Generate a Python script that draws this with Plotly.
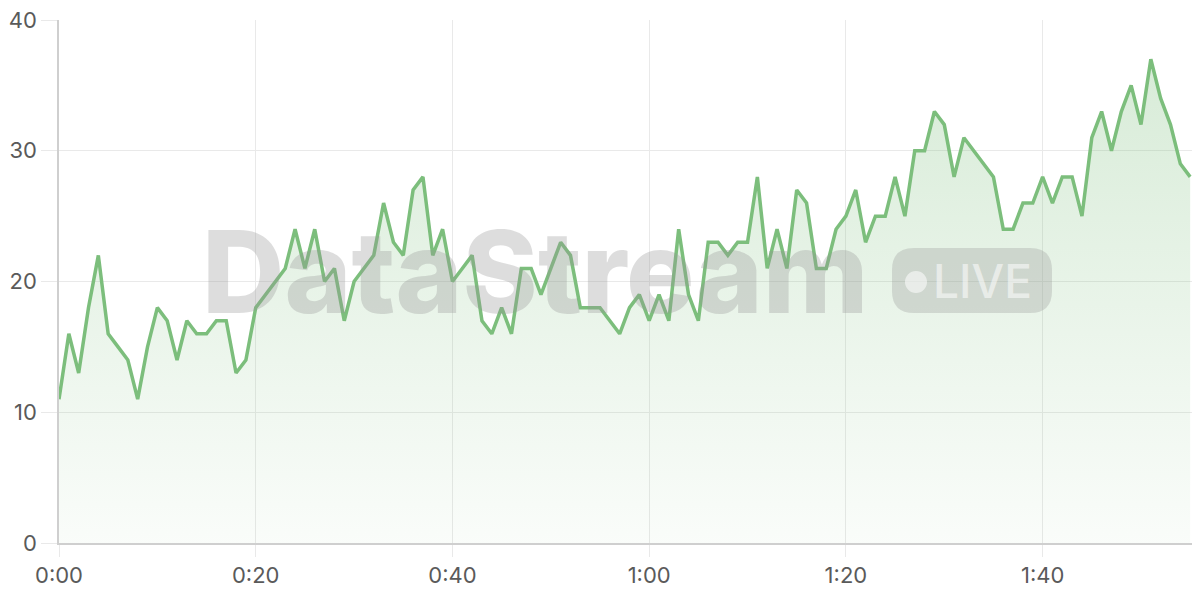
import plotly.graph_objects as go

# ---- data (seconds since start, value) ----
values = [11, 16, 13, 18, 22, 16, 15, 14, 11, 15,
          18, 17, 14, 17, 16, 16, 17, 17, 13, 14,
          18, 19, 20, 21, 24, 21, 24, 20, 21, 17,
          20, 21, 22, 26, 23, 22, 27, 28, 22, 24,
          20, 21, 22, 17, 16, 18, 16, 21, 21, 19,
          21, 23, 22, 18, 18, 18, 17, 16, 18, 19,
          17, 19, 17, 24, 19, 17, 23, 23, 22, 23,
          23, 28, 21, 24, 21, 27, 26, 21, 21, 24,
          25, 27, 23, 25, 25, 28, 25, 30, 30, 33,
          32, 28, 31, 30, 29, 28, 24, 24, 26, 26,
          28, 26, 28, 28, 25, 31, 33, 30, 33, 35,
          32, 37, 34, 32, 29, 28]
seconds = list(range(len(values)))

x_tick_vals = [0, 20, 40, 60, 80, 100]
x_tick_text = ["0:00", "0:20", "0:40", "1:00", "1:20", "1:40"]
y_tick_vals = [0, 10, 20, 30, 40]

LINE = "rgb(124,190,124)"
GRID = "#e9e9e9"
AXIS = "#cfcfcf"
TXT = "#5a5a5a"
FONT = "Inter"

fig = go.Figure()
fig.add_trace(go.Scatter(
    x=seconds, y=values, mode="lines",
    line=dict(color=LINE, width=3.5),
    fill="tozeroy",
    fillgradient=dict(
        type="vertical",
        start=0, stop=40,
        colorscale=[[0, "rgba(124,190,124,0.04)"], [1, "rgba(124,190,124,0.32)"]],
    ),
    hoverinfo="skip",
))

# ---- watermark (positions in page pixels -> paper coords) ----
PW, PH = 1141.0, 523.0
def px(x):
    return (x - 59) / PW
def py(y):
    return (543 - y) / PH

fig.add_annotation(
    text="DataStream", xref="paper", yref="paper",
    x=px(535), y=py(271.5), xanchor="center", yanchor="middle",
    showarrow=False,
    font=dict(family=FONT, size=114, color="rgba(150,150,150,0.32)", weight=800),
)

bx0, bx1, by0, by1, r = px(892), px(1052), py(313), py(248), 22
rx, ry = r / PW, r / PH
path = (f"M {bx0+rx},{by0} L {bx1-rx},{by0} Q {bx1},{by0} {bx1},{by0+ry} "
        f"L {bx1},{by1-ry} Q {bx1},{by1} {bx1-rx},{by1} "
        f"L {bx0+rx},{by1} Q {bx0},{by1} {bx0},{by1-ry} "
        f"L {bx0},{by0+ry} Q {bx0},{by0} {bx0+rx},{by0} Z")
fig.add_shape(type="path", path=path, xref="paper", yref="paper",
              fillcolor="rgba(150,150,150,0.3)", line=dict(width=0), layer="above")
cr = 11
fig.add_shape(type="circle", xref="paper", yref="paper",
              x0=px(916 - cr), x1=px(916 + cr), y0=py(282 + cr), y1=py(282 - cr),
              fillcolor="rgba(255,255,255,0.55)", line=dict(width=0), layer="above")
fig.add_annotation(
    text="LIVE", xref="paper", yref="paper",
    x=px(982.5), y=py(281), xanchor="center", yanchor="middle",
    showarrow=False,
    font=dict(family=FONT, size=46, color="rgba(255,255,255,0.55)", weight=500),
)

# page body has an 8px default margin -> compensate
fig.update_layout(
    width=1192, height=592,
    margin=dict(l=51, r=0, t=12, b=57),
    paper_bgcolor="white", plot_bgcolor="white",
    showlegend=False,
    font=dict(family=FONT, size=22, color=TXT),
    xaxis=dict(
        range=[0, 116], tickvals=x_tick_vals, ticktext=x_tick_text,
        automargin=False,
        showgrid=True, gridcolor=GRID, gridwidth=1,
        showline=True, linecolor=AXIS, linewidth=2,
        ticks="outside", ticklen=12, tickcolor=GRID, tickwidth=1,
        zeroline=False, tickfont=dict(size=22, color=TXT, family=FONT),
    ),
    yaxis=dict(
        range=[0, 40], tickvals=y_tick_vals,
        automargin=False, ticklabeloverflow="allow",
        showgrid=True, gridcolor=GRID, gridwidth=1,
        showline=True, linecolor=AXIS, linewidth=1.5,
        ticks="outside", ticklen=16, tickcolor=GRID, tickwidth=1,
        zeroline=False, tickfont=dict(size=22, color=TXT, family=FONT),
    ),
)

fig.write_html("out.html")
